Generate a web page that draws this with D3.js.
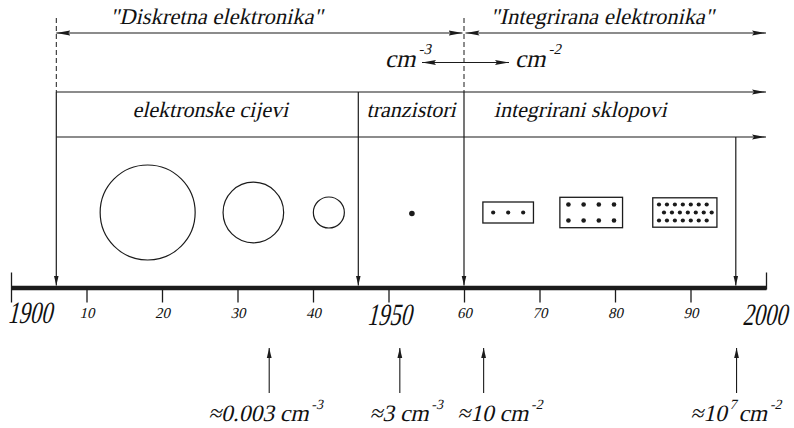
<!DOCTYPE html>
<html>
<head>
<meta charset="utf-8">
<script src="https://cdn.jsdelivr.net/npm/d3@7/dist/d3.min.js"></script>
</head>
<body style="margin:0;padding:0;background:#fff">
<svg id="chart" width="794" height="428" style="display:block"></svg>
<script>
// ---------- data ----------
const tickYears = [1900, 1910, 1920, 1930, 1940, 1950, 1960, 1970, 1980, 1990, 2000];
const majorYears = [1900, 1950, 2000];

const eraLabels = ['"Diskretna elektronika"', '"Integrirana elektronika"'];
const eraStart = [1906, 1960];
const eraEnd = [1960, 2000];
const eraLabelYear = [1927.2, 1978.3];

const techLabels = ["elektronske cijevi", "tranzistori", "integrirani sklopovi"];
const techLabelYear = [1926.4, 1953.0, 1975.4];

const markerYears = [1906, 1946, 1960, 1996];      // vertical arrows onto the time axis
const markerFromBand = [0, 0, 0, 1];                 // 0 = from top band line, 1 = from lower band line
const markerDashedTop = [true, false, true, false];

const tubeYears = [1918.1, 1932.1, 1942.1];
const tubeSize = [95, 60.6, 31];                      // relative diameters
const transistorYear = 1953.1;
const transistorSize = 5.6;

const chipStart = [1962.5, 1972.7, 1985.0];
const chipEnd = [1969.2, 1981.0, 1993.5];
const chipDots = [[3], [4, 4], [7, 7, 7]];

const densityYears = [1934.2, 1951.5, 1962.6, 1996.1];
const densityValue = ["0.003", "3", "10", "10"];
const densityValueExp = ["", "", "", "7"];
const densityUnitExp = ["-3", "-3", "-2", "-2"];

// ---------- layout ----------
const W = 794, H = 428;
const SKEW = -13;
const axisY = 287.5;
const yTitle = 24, yEra = 33, yCm = 62.5, yBandTop = 92, yBandBot = 137, yTech = 117;
const yObj = 212.5;
const ink = "#1b1b1b";

const svg = d3.select("#chart");
svg.append("rect").attr("width", W).attr("height", H).attr("fill", "#fff");

const x = d3.scaleLinear().domain([1900, 2000]).range([11, 766]);
const r = d3.scaleLinear().domain([0, 100]).range([0, 50]);

// slanted serif text: browser default serif face, skewed
function label(parent, px, py, size, anchor, extra = "") {
  return parent.append("text")
    .attr("transform", `translate(${px},${py}) skewX(${SKEW})${extra}`)
    .attr("x", 0).attr("y", 0)
    .attr("text-anchor", anchor || "start")
    .attr("font-size", size)
    .attr("fill", "#111");
}

const defs = svg.append("defs");
defs.append("marker").attr("id", "ah")
  .attr("viewBox", "0 0 14 6").attr("refX", 14).attr("refY", 3)
  .attr("markerWidth", 14).attr("markerHeight", 6)
  .attr("markerUnits", "userSpaceOnUse").attr("orient", "auto-start-reverse")
  .append("path").attr("d", "M0,0.5 L14,3 L0,5.5 L2,3 Z").attr("fill", ink);
defs.append("marker").attr("id", "ahs")
  .attr("viewBox", "0 0 10 6").attr("refX", 10).attr("refY", 3)
  .attr("markerWidth", 10).attr("markerHeight", 6)
  .attr("markerUnits", "userSpaceOnUse").attr("orient", "auto-start-reverse")
  .append("path").attr("d", "M0,0.6 L10,3 L0,5.4 Z").attr("fill", ink);

function line(x1, y1, x2, y2, opts = {}) {
  const l = svg.append("line").attr("x1", x1).attr("y1", y1).attr("x2", x2).attr("y2", y2)
    .attr("stroke", ink).attr("stroke-width", opts.w || 1.1);
  if (opts.dash) l.attr("stroke-dasharray", opts.dash);
  if (opts.end) l.attr("marker-end", `url(#${opts.end})`);
  if (opts.start) l.attr("marker-start", `url(#${opts.start})`);
  return l;
}

// ---------- eras ----------
eraLabels.forEach((lab, i) => {
  label(svg, x(eraLabelYear[i]), yTitle, 22.5, "middle").text(lab);
  line(x(eraStart[i]) + (i ? 1.5 : 0), yEra, x(eraEnd[i]) - (i ? 0 : 1.5), yEra, { start: "ah", end: "ah" });
});

// cm-3 <-> cm-2
const cmL = label(svg, 385, yCm + 4, 25);
cmL.append("tspan").text("cm");
cmL.append("tspan").attr("font-size", 15).attr("dy", -13).text("-3");
line(422, yCm, 509, yCm, { start: "ah", end: "ah" });
const cmR = label(svg, 515, yCm + 4, 25);
cmR.append("tspan").text("cm");
cmR.append("tspan").attr("font-size", 15).attr("dy", -13).text("-2");

// band lines
line(x(eraStart[0]), yBandTop, x(2000), yBandTop, { end: "ah" });
line(x(eraStart[0]), yBandBot, x(2000), yBandBot, { end: "ah" });

techLabels.forEach((lab, i) => {
  label(svg, x(techLabelYear[i]), yTech, 22, "middle").text(lab);
});

// vertical markers
markerYears.forEach((yr, i) => {
  const xp = x(yr);
  const y0 = markerFromBand[i] ? yBandBot : yBandTop;
  if (markerDashedTop[i]) line(xp, 18, xp, yBandTop, { dash: "5,3", w: 1 });
  line(xp, y0, xp, axisY - 2, { end: "ahs", w: 1.2 });
});

// ---------- tubes & transistor ----------
tubeYears.forEach((yr, i) => {
  svg.append("circle").attr("cx", x(yr)).attr("cy", yObj).attr("r", r(tubeSize[i]))
    .attr("fill", "none").attr("stroke", ink).attr("stroke-width", 1.2);
});
svg.append("circle").attr("cx", x(transistorYear)).attr("cy", yObj + 1).attr("r", r(transistorSize)).attr("fill", ink);

// ---------- chips ----------
const chipH = [21, 30.4, 29.4];
const chipSpX = [15, 15.2, 7.95];
const chipSpY = [0, 16, 8];
const chipStagger = [[0], [0, 0], [-2, 3, -2]];
const chipDotR = [2.1, 2.3, 2.1];
chipStart.forEach((s, i) => {
  const x0 = x(s), x1 = x(chipEnd[i]);
  const cx = (x0 + x1) / 2;
  svg.append("rect").attr("x", x0).attr("y", yObj - chipH[i] / 2).attr("width", x1 - x0).attr("height", chipH[i])
    .attr("fill", "none").attr("stroke", ink).attr("stroke-width", 1.3);
  const rows = chipDots[i];
  rows.forEach((n, ri) => {
    const cy = yObj + (ri - (rows.length - 1) / 2) * chipSpY[i];
    d3.range(n).forEach(k => {
      svg.append("circle")
        .attr("cx", cx + chipStagger[i][ri] + (k - (n - 1) / 2) * chipSpX[i])
        .attr("cy", cy).attr("r", chipDotR[i]).attr("fill", ink);
    });
  });
});

// ---------- axis ----------
const axis = d3.axisBottom(x).tickValues(tickYears).tickSize(15).tickSizeOuter(0)
  .tickFormat(d => majorYears.includes(d) ? String(d) : String(d % 100));
const gA = svg.append("g").attr("transform", `translate(0,${axisY})`).call(axis);
gA.attr("font-family", null).attr("font-size", null);
gA.select(".domain").attr("stroke", ink).attr("stroke-width", 4.6);
gA.selectAll(".tick line").attr("stroke", ink).attr("stroke-width", 1.3)
  .attr("y1", 1).attr("y2", 15)
  .filter(d => d === 1900).attr("y1", -15);
gA.selectAll(".tick line").filter(d => d === 2000).attr("y1", -15).attr("y2", 2);
gA.selectAll(".tick text")
  .attr("dy", 0).attr("y", 0).attr("fill", "#111")
  .each(function (d) {
    const t = d3.select(this);
    if (majorYears.includes(d)) {
      const dx = d === 1900 ? 18 : (d === 2000 ? -2 : 0);
      t.attr("font-size", 31)
        .attr("transform", `translate(${dx},${d === 1900 ? 35.5 : 37}) skewX(${SKEW}) scale(0.72,1)`);
    } else {
      t.attr("font-size", 15).attr("transform", `translate(0,30.5) skewX(${SKEW})`);
    }
  });

// ---------- density arrows ----------
const densDx = [-5, 5, 15, -2];
densityYears.forEach((yr, i) => {
  const xp = x(yr);
  line(xp, 393, xp, 348, { end: "ahs", w: 1.1 });
  const t = label(svg, xp + densDx[i], 421, 23.5, "middle");
  t.append("tspan").text("\u2248" + densityValue[i]);
  if (densityValueExp[i]) {
    t.append("tspan").attr("font-size", 14).attr("dy", -12).text(densityValueExp[i]);
    t.append("tspan").attr("dy", 12).text("\u2009cm");
  } else {
    t.append("tspan").text(" cm");
  }
  t.append("tspan").attr("font-size", 14).attr("dy", -12).text(densityUnitExp[i]);
});
</script>
</body>
</html>
